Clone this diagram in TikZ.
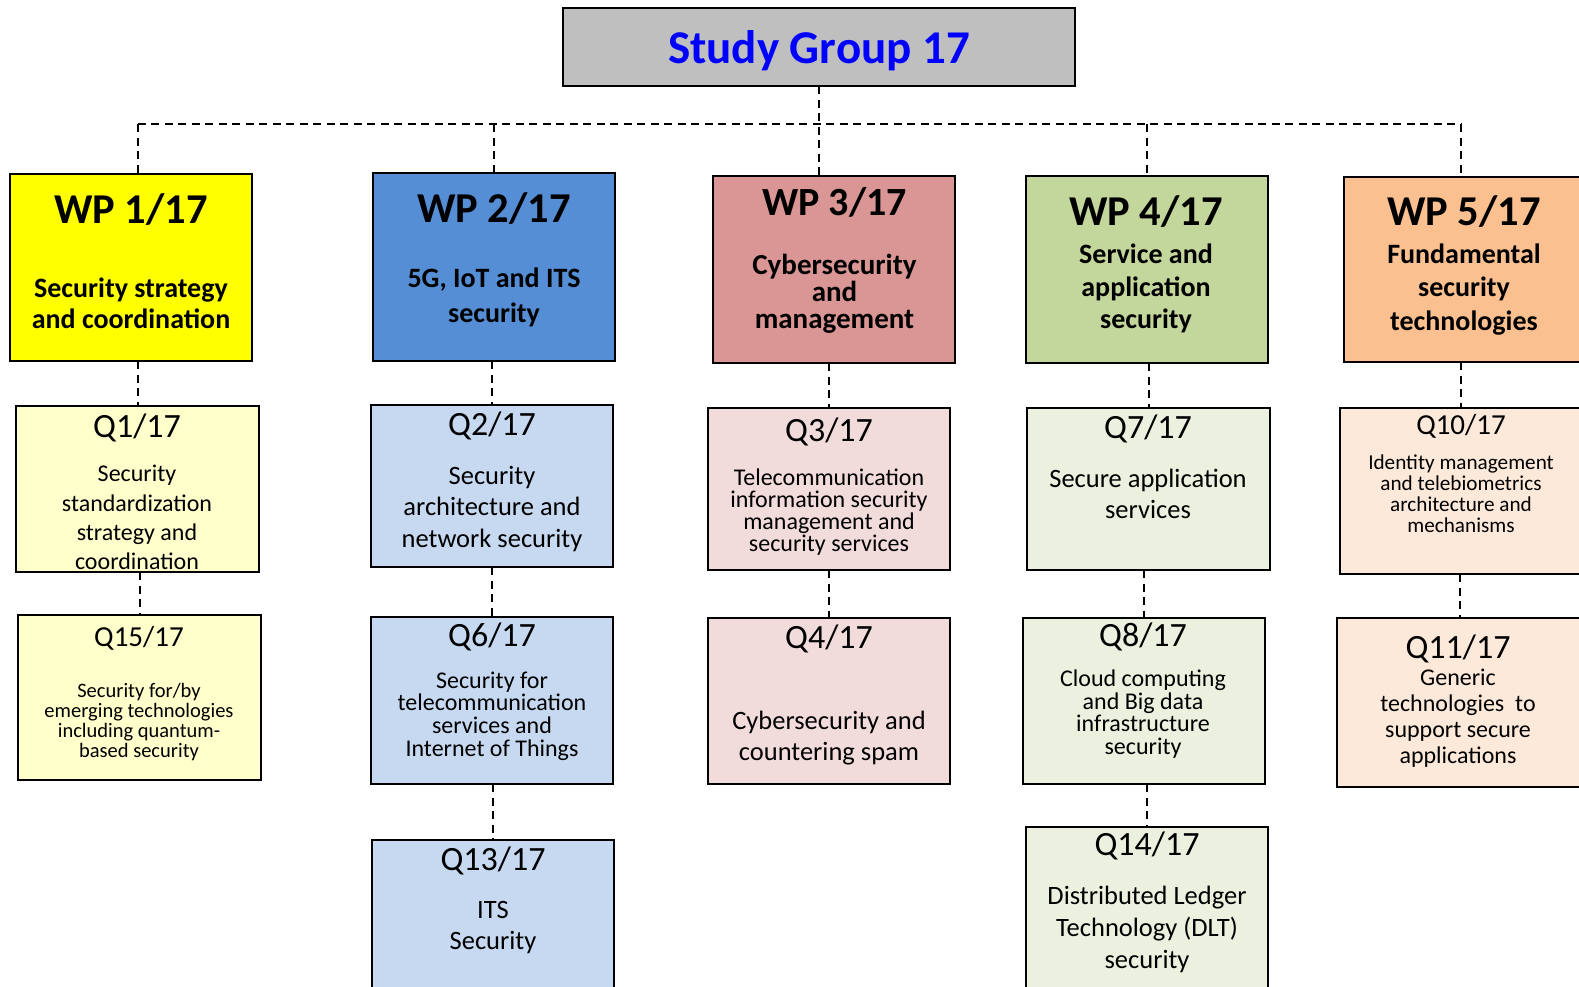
\documentclass[tikz,border=0pt]{standalone}
\usepackage{fontspec}
\setmainfont{Carlito}
\usetikzlibrary{positioning}

\definecolor{sggray}{HTML}{BFBFBF}
\definecolor{sgblue}{HTML}{0000FF}
\definecolor{wpyellow}{HTML}{FFFF00}
\definecolor{wpblue}{HTML}{558ED5}
\definecolor{wpred}{HTML}{D99694}
\definecolor{wpgreen}{HTML}{C3D69B}
\definecolor{wporange}{HTML}{FAC090}
\definecolor{qyellow}{HTML}{FFFFCC}
\definecolor{qblue}{HTML}{C6D9F1}
\definecolor{qred}{HTML}{F2DCDB}
\definecolor{qgreen}{HTML}{EBF1DE}
\definecolor{qorange}{HTML}{FDE9D9}

\tikzset{
  box/.style={draw=black, line width=2pt, anchor=north west, inner sep=0pt, outer sep=0pt},
  link/.style={draw=black, line width=2pt, dash pattern=on 8pt off 5.5pt},
  wphead/.style={font=\bfseries\fontsize{42.5}{50}\selectfont, anchor=base, inner sep=0pt},
  wptext/.style={font=\bfseries\fontsize{28}{33}\selectfont, align=center, inner sep=0pt},
  qhead/.style={font=\fontsize{34}{40}\selectfont, anchor=base, inner sep=0pt},
  qtext/.style={font=\fontsize{26.5}{31.5}\selectfont, align=center, inner sep=0pt}
}

\begin{document}
\begin{tikzpicture}[x=1pt,y=-1pt]
  \clip[use as bounding box] (0,0) rectangle (1579,986);
  % study group
  \node[box, fill=sggray, minimum width=512, minimum height=78, text=sgblue, text depth=0pt,
        font=\bfseries\fontsize{47}{56}\selectfont] (title) at (563,8) {Study Group 17};
  % working parties
  \node[box, fill=wpyellow, minimum width=242, minimum height=187] (wp1) at (10,174) {};
  \node[box, fill=wpblue,   minimum width=242, minimum height=188] (wp2) at (373,173) {};
  \node[box, fill=wpred,    minimum width=242, minimum height=187] (wp3) at (713,176) {};
  \node[box, fill=wpgreen,  minimum width=242, minimum height=187] (wp4) at (1026,176) {};
  \node[box, fill=wporange, minimum width=240, minimum height=185] (wp5) at (1344,177) {};
  % questions
  \node[box, fill=qyellow, minimum width=243, minimum height=166] (q1)  at (16,406) {};
  \node[box, fill=qyellow, minimum width=243, minimum height=165] (q15) at (18,615) {};
  \node[box, fill=qblue,   minimum width=242, minimum height=162] (q2)  at (371,405) {};
  \node[box, fill=qblue,   minimum width=242, minimum height=167] (q6)  at (371,617) {};
  \node[box, fill=qblue,   minimum width=242, minimum height=170] (q13) at (372,840) {};
  \node[box, fill=qred,    minimum width=242, minimum height=162] (q3)  at (708,408) {};
  \node[box, fill=qred,    minimum width=242, minimum height=166] (q4)  at (708,618) {};
  \node[box, fill=qgreen,  minimum width=243, minimum height=162] (q7)  at (1027,408) {};
  \node[box, fill=qgreen,  minimum width=242, minimum height=166] (q8)  at (1023,618) {};
  \node[box, fill=qgreen,  minimum width=242, minimum height=183] (q14) at (1026,827) {};
  \node[box, fill=qorange, minimum width=242, minimum height=166] (q10) at (1340,408) {};
  \node[box, fill=qorange, minimum width=246, minimum height=169] (q11) at (1337,618) {};

  % dashed tree
  \coordinate (bus) at (0,124);
  \draw[link] (title.south) -- (title.south |- wp3.north);
  \draw[link] (q1.north |- bus) -- (q10.north |- bus);
  \foreach \w/\c in {wp1/q1,wp2/wp2,wp4/wp4,wp5/q10}
    \draw[link] (\c.north |- bus) -- (\c.north |- \w.north);
  \foreach \a/\b in {wp1/q1,q1/q15,wp2/q2,q2/q6,q6/q13,wp3/q3,q3/q4,wp4/q7,q7/q8,q8/q14,wp5/q10,q10/q11}
    \draw[link] (\b.north |- \a.south) -- (\b.north);

  % texts
  \node[wphead] (wp1h) at (131,223) {WP 1/17};
  \node[wptext, font=\bfseries\fontsize{28}{31}\selectfont] (wp1d) at (131,303) {Security strategy\\and coordination};
  \node[wphead] (wp2h) at (494,222) {WP 2/17};
  \node[wptext, font=\bfseries\fontsize{28}{35}\selectfont] (wp2d) at (494,297) {5G, IoT and ITS\\security};
  \node[wphead, font=\bfseries\fontsize{40}{48}\selectfont] (wp3h) at (834.5,215) {WP 3/17};
  \node[wptext, font=\bfseries\fontsize{29}{27}\selectfont] (wp3d) at (834.5,294) {Cybersecurity\\and\\management};
  \node[wphead] (wp4h) at (1146,225) {WP 4/17};
  \node[wptext, font=\bfseries\fontsize{28}{32.5}\selectfont] (wp4d) at (1146,288.5) {Service and\\application\\security};
  \node[wphead] (wp5h) at (1464,225) {WP 5/17};
  \node[wptext, font=\bfseries\fontsize{28}{33.5}\selectfont] (wp5d) at (1464,289.5) {Fundamental\\security\\technologies};

  \node[qhead] (q1h) at (137,437.7) {Q1/17};
  \node[qtext, font=\fontsize{24}{29.4}\selectfont] (q1d) at (137,517.6) {Security\\standardization\\strategy and\\coordination};
  \node[qhead, font=\fontsize{29}{35}\selectfont] (q15h) at (139,646) {Q15/17};
  \node[qtext, font=\fontsize{20.5}{20}\selectfont] (q15d) at (139,722) {Security for/by\\emerging technologies\\including quantum-\\based security};
  \node[qhead] (q2h) at (492,435.7) {Q2/17};
  \node[qtext] (q2d) at (492,509) {Security\\architecture and\\network security};
  \node[qhead] (q6h) at (492,646) {Q6/17};
  \node[qtext, font=\fontsize{24}{22.8}\selectfont] (q6d) at (492,716) {Security for\\telecommunication\\services and\\Internet of Things};
  \node[qhead] (q13h) at (493,870) {Q13/17};
  \node[qtext, font=\fontsize{26.5}{31}\selectfont] (q13d) at (493,928) {ITS\\Security};
  \node[qhead] (q3h) at (829,441.7) {Q3/17};
  \node[qtext, font=\fontsize{24}{22.2}\selectfont] (q3d) at (829,512) {Telecommunication\\information security\\management and\\security services};
  \node[qhead] (q4h) at (829,648) {Q4/17};
  \node[qtext] (q4d) at (829,738) {Cybersecurity and\\countering spam};
  \node[qhead] (q7h) at (1148,438.7) {Q7/17};
  \node[qtext] (q7d) at (1148,494) {Secure application\\services};
  \node[qhead] (q8h) at (1143,646.7) {Q8/17};
  \node[qtext, font=\fontsize{24}{22.7}\selectfont] (q8d) at (1143,714) {Cloud computing\\and Big data\\infrastructure\\security};
  \node[qhead] (q14h) at (1147,855.8) {Q14/17};
  \node[qtext, font=\fontsize{26.5}{32}\selectfont] (q14d) at (1147,929.5) {Distributed Ledger\\Technology (DLT)\\security};
  \node[qhead, font=\fontsize{29}{35}\selectfont] (q10h) at (1461,434.3) {Q10/17};
  \node[qtext, font=\fontsize{21.2}{21}\selectfont] (q10d) at (1461,494) {Identity management\\and telebiometrics\\architecture and\\mechanisms};
  \node[qhead] (q11h) at (1458,658.3) {Q11/17};
  \node[qtext, font=\fontsize{24}{26}\selectfont] (q11d) at (1458,718) {Generic\\technologies\ \ to\\support secure\\applications};
\end{tikzpicture}
\end{document}
